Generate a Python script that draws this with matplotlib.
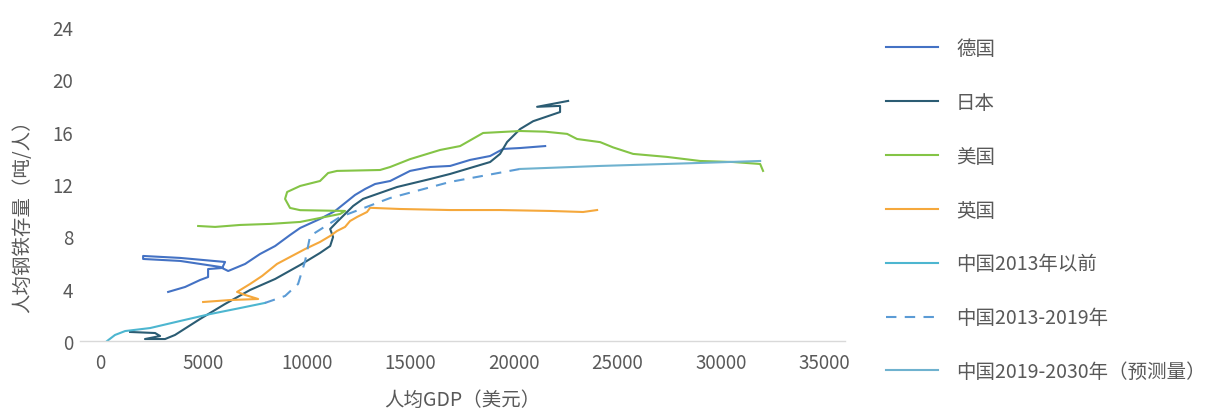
import matplotlib
matplotlib.use("Agg")
import matplotlib.pyplot as plt

plt.rcParams['font.family'] = ['Noto Sans CJK SC', 'DejaVu Sans']

# ---- data (人均GDP 美元, 人均钢铁存量 吨/人) ----
de_gdp = [3290, 4110, 4830, 5220, 5220, 5900, 6040, 3870, 2080, 2080, 3870, 5800, 6190,
          7010, 7730, 8460, 9180, 9670, 10630, 11360, 11840, 12320, 12810, 13290, 14020,
          14980, 15950, 16920, 17880, 18850, 19480, 20300, 21510]
de_stock = [3.75, 4.13, 4.66, 4.89, 5.50, 5.58, 6.04, 6.35, 6.50, 6.27, 6.12, 5.66, 5.35,
            5.89, 6.65, 7.26, 8.10, 8.64, 9.33, 9.94, 10.55, 11.16, 11.62, 12.0, 12.23,
            13.0, 13.3, 13.38, 13.84, 14.14, 14.68, 14.75, 14.9]

jp_gdp = [1450, 2660, 2900, 2170, 3140, 3620, 4830, 6040, 7250, 8460, 9670, 10630, 11120,
          11260, 11120, 11450, 12230, 12710, 14350, 15950, 16920, 18850, 19330, 19670,
          20300, 20930, 22230, 22230, 21120, 22620]
jp_stock = [0.69, 0.61, 0.38, 0.15, 0.15, 0.46, 1.68, 2.83, 3.90, 4.74, 5.81, 6.73, 7.26,
            7.95, 8.56, 9.10, 10.32, 10.86, 11.77, 12.38, 12.77, 13.68, 14.3, 15.21,
            16.2, 16.8, 17.5, 17.97, 17.9, 18.35]

us_gdp = [4740, 5560, 6770, 8220, 9670, 11600, 11840, 9670, 9180, 8940, 9040, 9670, 10630,
          11020, 11450, 13530, 14020, 14980, 16430, 17400, 18510, 20300, 21500, 22570,
          23050, 24170, 24790, 25760, 27400, 29000, 30590, 31900, 32040]
us_stock = [8.79, 8.72, 8.87, 8.95, 9.10, 9.71, 9.94, 10.0, 10.17, 10.86, 11.39, 11.85,
            12.23, 12.84, 13.0, 13.07, 13.3, 13.9, 14.6, 14.9, 15.9, 16.05, 16.0, 15.83,
            15.44, 15.2, 14.8, 14.3, 14.07, 13.76, 13.68, 13.53, 13.0]

uk_gdp = [4980, 6280, 7640, 7010, 6620, 7250, 7830, 8550, 9180, 9910, 10630, 11120, 11450,
          11840, 12080, 12420, 12900, 13050, 14500, 16920, 19330, 21750, 23340, 24020]
uk_stock = [2.98, 3.13, 3.21, 3.52, 3.75, 4.36, 4.97, 5.89, 6.42, 7.03, 7.57, 8.03, 8.41,
            8.72, 9.17, 9.48, 9.86, 10.18, 10.09, 10.01, 10.01, 9.94, 9.86, 10.01]

cn1_gdp = [340, 720, 1210, 2420, 3870, 5320, 6770, 7970]
cn1_stock = [0.0, 0.46, 0.76, 0.99, 1.53, 2.06, 2.52, 2.91]

cn2_gdp = [7970, 8940, 9570, 9910, 10150, 11600, 14020, 16920, 20300]
cn2_stock = [2.91, 3.44, 4.36, 6.12, 8.03, 9.48, 10.93, 12.16, 13.15]

cn3_gdp = [20300, 24170, 29000, 31900]
cn3_stock = [13.15, 13.38, 13.61, 13.76]

labels = ['德国', '日本', '美国', '英国', '中国2013年以前', '中国2013-2019年', '中国2019-2030年（预测量）']
x_ticks = [0, 5000, 10000, 15000, 20000, 25000, 30000, 35000]
y_ticks = [0, 4, 8, 12, 16, 20, 24]

# ---- figure ----
fig = plt.figure(figsize=(12.11, 4.10), dpi=100)
ax = fig.add_axes([80/1211, 68/410, 765/1211, 314/410])

lw = 1.5
ax.plot(de_gdp, de_stock, color='#4472C4', lw=lw, label=labels[0])
ax.plot(jp_gdp, jp_stock, color='#2B5C73', lw=lw, label=labels[1])
ax.plot(us_gdp, us_stock, color='#84C446', lw=lw, label=labels[2])
ax.plot(uk_gdp, uk_stock, color='#F5A83C', lw=lw, label=labels[3])
ax.plot(cn1_gdp, cn1_stock, color='#4DB6D0', lw=lw, label=labels[4])
ax.plot(cn2_gdp, cn2_stock, color='#5B9BD5', lw=lw, ls=(0, (5, 4)), label=labels[5])
ax.plot(cn3_gdp, cn3_stock, color='#6FB2CF', lw=lw, label=labels[6])

ax.set_xlim(-970, 36000)
ax.set_ylim(0, 24)
ax.set_xticks(x_ticks)
ax.set_yticks(y_ticks)
ax.tick_params(axis='both', length=0, labelsize=13.5, colors='#595959')
ax.tick_params(axis='y', pad=5)
ax.tick_params(axis='x', pad=8)
for s in ['top', 'right', 'left']:
    ax.spines[s].set_visible(False)
ax.spines['bottom'].set_color('#D9D9D9')
ax.spines['bottom'].set_linewidth(1.0)

ax.set_xlabel('人均GDP（美元）', fontsize=14, color='#595959', va='top')
ax.xaxis.set_label_coords(0.5, -0.153)
ax.set_ylabel('人均钢铁存量（吨/人）', fontsize=14, color='#595959')
ax.yaxis.set_label_coords(-0.061, 0.414)

leg = fig.legend(loc='upper left', bbox_to_anchor=(886/1211, 1 - 39/410),
                 frameon=False, fontsize=14, labelspacing=1.69, handlelength=2.7,
                 handletextpad=0.9, borderpad=0, borderaxespad=0)
for t in leg.get_texts():
    t.set_color('#595959')

fig.savefig('out.png', dpi=100)
